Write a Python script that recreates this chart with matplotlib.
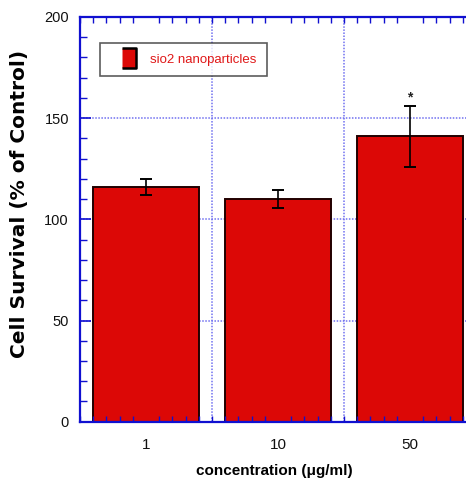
import matplotlib
matplotlib.use("Agg")
import matplotlib.pyplot as plt
from matplotlib.ticker import MultipleLocator
from matplotlib.lines import Line2D

plt.rcParams['font.family'] = ['Liberation Sans', 'DejaVu Sans']

categories = ["1", "10", "50"]
values = [116, 110, 141]
errors = [4, 4.5, 15]
significance = ["", "", "*"]
y_ticks = [0, 50, 100, 150, 200]
series_name = "sio2 nanoparticles"

BAR_RED = "#dc0806"
BLUE = "#1010d0"
GRID = "#7070f0"

W, H = 466, 480
fig = plt.figure(figsize=(W / 100, H / 100), dpi=100)
ax = fig.add_axes([80 / W, (H - 421.7) / H, 396 / W, 404.7 / H])

x = [i + 0.5 for i in range(len(categories))]
ax.bar(x, values, width=0.8, color=BAR_RED, edgecolor="#200000", linewidth=1.4, zorder=1)
ax.errorbar(x, values, yerr=errors, fmt="none", ecolor="black", elinewidth=1.2,
            capsize=4, capthick=1.4, zorder=3)
for xi, v, e, s in zip(x, values, errors, significance):
    if s:
        ax.annotate(s, (xi, v + e), xytext=(0, 1), textcoords="offset points",
                    ha="center", va="bottom", fontsize=10, fontweight="bold", color="#222222")

ax.set_xlim(0, len(categories))
ax.set_ylim(y_ticks[0], y_ticks[-1])

# gridlines (below bars)
for gx in range(1, len(categories)):
    ax.axvline(gx, color=GRID, linestyle=(0, (1, 1)), linewidth=1.1, zorder=0)
for gy in y_ticks[1:-1]:
    ax.axhline(gy, color=GRID, linestyle=(0, (1, 1)), linewidth=1.1, zorder=0)

ax.set_xticks(x)
ax.set_xticklabels(categories, fontsize=11)
ax.xaxis.set_minor_locator(MultipleLocator(0.1))
ax.tick_params(axis="x", which="major", length=0, pad=12, labelcolor="#111111")
ax.tick_params(axis="x", which="minor", direction="in", length=4, width=1,
               color=BLUE, top=True, bottom=True)

ax.set_yticks(y_ticks)
ax.yaxis.set_minor_locator(MultipleLocator(10))
ax.tick_params(axis="y", which="major", direction="in", length=8, width=1.2,
               color=BLUE, pad=8, labelsize=10.5, labelcolor="#111111")
ax.tick_params(axis="y", which="minor", direction="in", length=5, width=1, color=BLUE)

for side in ["left", "top", "bottom", "right"]:
    ax.spines[side].set_color(BLUE)
    ax.spines[side].set_linewidth(1.6)
    ax.spines[side].set_zorder(2.6)

ax.set_ylabel("Cell Survival (% of Control)", fontsize=14.5, fontweight="bold",
              family=["DejaVu Sans"])
ax.yaxis.set_label_coords(-0.129, 0.538)
ax.set_xlabel("concentration (\u03bcg/ml)", fontsize=11, fontweight="bold")
ax.xaxis.set_label_coords(0.49, -0.104)

handle = Line2D([], [], marker=[(-0.7, -1), (0.7, -1), (0.7, 1), (-0.7, 1)], linestyle="none",
                markersize=14, markerfacecolor=BAR_RED, markeredgecolor="black",
                markeredgewidth=1.8)
leg = ax.legend([handle], [series_name], loc="upper left", bbox_to_anchor=(0.05, 0.936),
                borderaxespad=0, fontsize=9.5, frameon=True, fancybox=False,
                handlelength=2.8, handletextpad=0.2, borderpad=0.8)
leg.get_frame().set_edgecolor("#333333")
leg.get_frame().set_linewidth(1.2)
for t in leg.get_texts():
    t.set_color("#e01818")

fig.savefig("out.png", dpi=100)
